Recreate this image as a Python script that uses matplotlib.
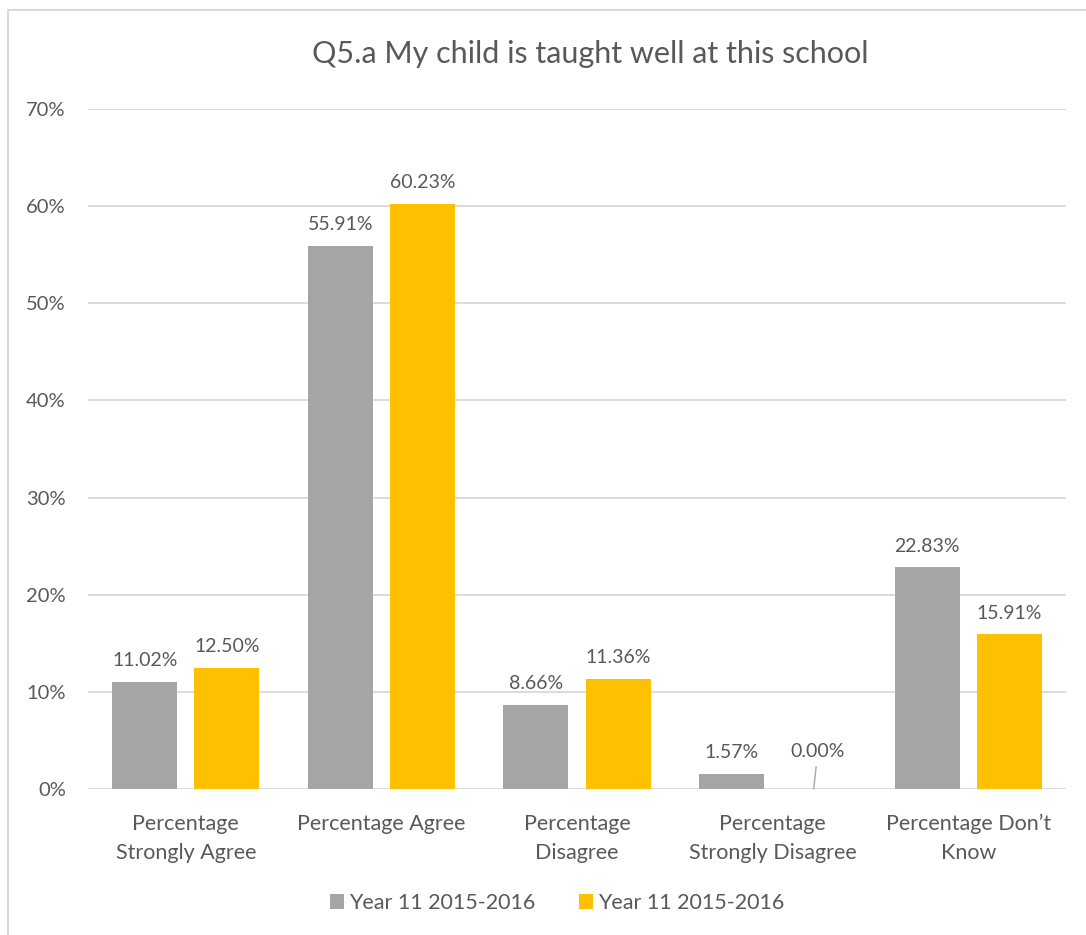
import matplotlib
matplotlib.use("Agg")
import matplotlib.pyplot as plt
from matplotlib.lines import Line2D
import numpy as np

categories = ["Percentage\nStrongly Agree", "Percentage Agree", "Percentage\nDisagree",
              "Percentage\nStrongly Disagree", "Percentage Don\u2019t\nKnow"]
series_names = ["Year 11 2015-2016", "Year 11 2015-2016"]
gray_vals = [11.02, 55.91, 8.66, 1.57, 22.83]
gold_vals = [12.50, 60.23, 11.36, 0.00, 15.91]
yticks = [0, 10, 20, 30, 40, 50, 60, 70]

GRAY = "#A5A5A5"
GOLD = "#FFC000"
TXT = "#595959"
GRID = "#D9D9D9"

plt.rcParams['font.family'] = ['Lato', 'DejaVu Sans']

fig = plt.figure(figsize=(10.86, 9.35), dpi=100)
W, H = 1086, 935
ax = fig.add_axes([88 / W, 1 - 789 / H, (1066 - 88) / W, (789 - 109) / H])

x = np.arange(len(categories))
bw = 0.333
off = 0.21
b1 = ax.bar(x - off, gray_vals, bw, color=GRAY, label=series_names[0], zorder=3)
b2 = ax.bar(x + off, gold_vals, bw, color=GOLD, label=series_names[1], zorder=3)

ax.set_xlim(-0.5, len(categories) - 0.5)
ax.set_ylim(0, 70)
ax.set_yticks(yticks)
ax.set_yticklabels([f"{t}%" for t in yticks])
ax.grid(axis='y', color=GRID, linewidth=1.3, zorder=0)
ax.set_axisbelow(True)
for s in ax.spines.values():
    s.set_visible(False)
ax.tick_params(axis='both', length=0, colors=TXT)
ax.tick_params(axis='y', pad=16, labelsize=14.5)
ax.tick_params(axis='x', pad=18, labelsize=15.5)
ax.set_xticks(x)
ax.set_xticklabels(categories, linespacing=1.55)

for xi, v in zip(x - off, gray_vals):
    ax.annotate(f"{v:.2f}%", (xi, v), xytext=(0, 9), textcoords='offset points',
                ha='center', va='bottom', color=TXT, fontsize=14)
for xi, v in zip(x + off, gold_vals):
    if v == 0:
        ax.annotate(f"{v:.2f}%", (xi, v), xytext=(3, 21), textcoords='offset points',
                    ha='center', va='bottom', color=TXT, fontsize=14,
                    arrowprops=dict(arrowstyle='-', color='#A6A6A6', lw=1,
                                    shrinkA=3, shrinkB=0))
    else:
        ax.annotate(f"{v:.2f}%", (xi, v), xytext=(0, 9), textcoords='offset points',
                    ha='center', va='bottom', color=TXT, fontsize=14)

fig.text(590 / W, 1 - 54 / H, "Q5.a My child is taught well at this school", ha='center',
         va='center', fontsize=22, color=TXT)

leg = fig.legend(handles=[b1, b2], loc='center', bbox_to_anchor=(557 / W, 1 - 903 / H),
                 ncol=2, frameon=False, fontsize=15.5, handlelength=0.65, handleheight=0.65,
                 handletextpad=0.25, columnspacing=2.0, labelcolor=TXT)

# outer border (top and left visible)
fig.add_artist(Line2D([8 / W, 8 / W], [0, 1 - 10 / H], color=GRID, lw=1.5, transform=fig.transFigure))
fig.add_artist(Line2D([8 / W, 1], [1 - 10 / H, 1 - 10 / H], color=GRID, lw=1.5, transform=fig.transFigure))

fig.savefig("out.png", dpi=100)
